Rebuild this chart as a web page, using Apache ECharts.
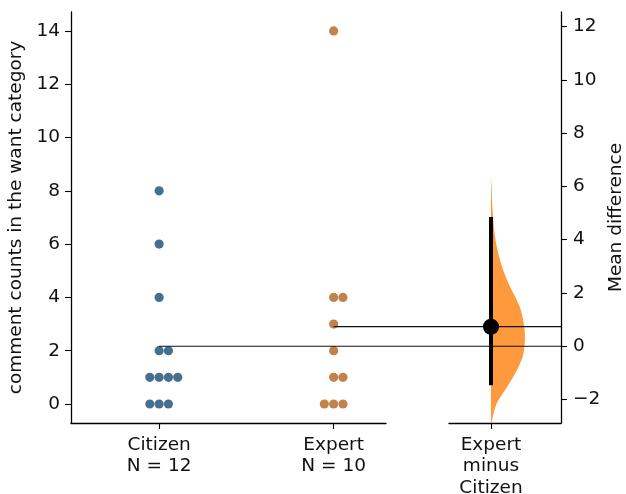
<!DOCTYPE html>
<html><head><meta charset="utf-8">
<script src="https://cdn.jsdelivr.net/npm/echarts@6/dist/echarts.min.js"></script>
<style>html,body{margin:0;padding:0;background:#fff}#c{width:626px;height:494px}</style>
</head><body><div id="c"></div>
<script>
// ---------- data ----------
const groups = ['Citizen', 'Expert'];
const citizenValues = [0, 0, 0, 1, 1, 1, 1, 2, 2, 4, 6, 8];
const expertValues = [0, 0, 0, 1, 1, 2, 3, 4, 4, 14];
const leftTicks = [0, 2, 4, 6, 8, 10, 12, 14];
const rightTicks = [-2, 0, 2, 4, 6, 8, 10, 12];
const diffLabel = 'Expert\nminus\nCitizen';
const yLabel = 'comment counts in the want category';
const diffAxisLabel = 'Mean difference';
// bootstrap distribution of the mean difference (value, relative density)
const bootDiff =    [6.34, 5.9, 5.48, 4.73, 4.10, 3.48, 2.85, 2.23, 1.73, 1.35, 0.72, 0.30, -0.03, -0.40, -1.02, -1.65, -2.14, -2.65, -2.95];
const bootDensity = [0.0, 0.02, 0.03, 0.068, 0.12, 0.215, 0.36, 0.56, 0.76, 0.88, 0.98, 1.0, 0.98, 0.93, 0.71, 0.41, 0.17, 0.05, 0.01];
const ciLow = -1.46, ciHigh = 4.85;

// ---------- layout / style ----------
const FONT = 'DejaVu Sans';
const FS = 18.5;
const TXT = '#111';
const GL = {left: 71, top: 12, width: 315, height: 411, outerBoundsMode: 'none'};
const GR = {left: 449, top: 12, width: 112, height: 411, outerBoundsMode: 'none'};
const Y_MIN = -0.713, Y_MAX = 14.71;
const DOT_R = 4.6, DOT_GAP = 9.3;
const colors = ['#446f8f', '#c3824a'];
const violinColor = 'rgba(255,127,14,0.8)';

const mean = a => a.reduce((s, v) => s + v, 0) / a.length;
const groupValues = [citizenValues, expertValues];
const means = groupValues.map(mean);
const diffMean = means[1] - means[0];

function swarmSlots(vals) {
  const seen = {};
  const order = [0, 1, -1, 2, -2, 3, -3, 4, -4];
  return vals.map(v => { const k = seen[v] || 0; seen[v] = k + 1; return order[k]; });
}

const swarmSeries = groupValues.map((vals, gi) => {
  const slots = swarmSlots(vals);
  return {
    type: 'custom', xAxisIndex: 0, yAxisIndex: 0, z: 4,
    data: vals.map((v, i) => [gi, v, slots[i]]),
    renderItem(params, api) {
      const p = api.coord([api.value(0), api.value(1)]);
      return {type: 'circle', shape: {cx: p[0] + api.value(2) * DOT_GAP, cy: p[1], r: DOT_R},
        style: {fill: colors[gi]}};
    }
  };
});

const meanLineSeries = {
  type: 'custom', xAxisIndex: 0, yAxisIndex: 0, z: 6, clip: false,
  data: means.map((m, gi) => [gi, m]),
  renderItem(params, api) {
    const p = api.coord([api.value(0), api.value(1)]);
    return {type: 'line', shape: {x1: p[0], y1: p[1], x2: GR.left + GR.width, y2: p[1]},
      style: {stroke: '#111', lineWidth: 1.2}};
  }
};

const violinSeries = {
  type: 'custom', xAxisIndex: 1, yAxisIndex: 1, z: 2, clip: true,
  data: [[0, 0]],
  renderItem(params, api) {
    const pts = [];
    for (let i = 0; i < bootDiff.length; i++) pts.push(api.coord([bootDensity[i], bootDiff[i]]));
    pts.push(api.coord([0, bootDiff[bootDiff.length - 1]]));
    pts.push(api.coord([0, bootDiff[0]]));
    return {type: 'polygon', shape: {points: pts, smooth: 0.3}, style: {fill: violinColor}};
  }
};

const ciSeries = {
  type: 'custom', xAxisIndex: 1, yAxisIndex: 1, z: 8,
  data: [[0, ciLow, ciHigh, diffMean]],
  renderItem(params, api) {
    const a = api.coord([0, api.value(1)]);
    const b = api.coord([0, api.value(2)]);
    const m = api.coord([0, api.value(3)]);
    return {type: 'group', children: [
      {type: 'line', shape: {x1: a[0], y1: a[1], x2: b[0], y2: b[1]}, style: {stroke: '#000', lineWidth: 4}},
      {type: 'circle', shape: {cx: m[0], cy: m[1], r: 8}, style: {fill: '#000'}}
    ]};
  }
};

const axisLineStyle = {show: true, onZero: false, lineStyle: {color: '#000', width: 1.3}};
const tickStyle = {show: true, length: 6, lineStyle: {color: '#000', width: 1.1}};
const labelBase = {color: TXT, fontFamily: FONT, fontSize: FS};

const option = {
  animation: false,
  backgroundColor: '#fff',
  grid: [GL, GR],
  xAxis: [
    {gridIndex: 0, type: 'value', min: -0.505, max: 1.3, splitLine: {show: false},
      axisLine: axisLineStyle,
      axisTick: Object.assign({}, tickStyle, {customValues: [0, 1]}),
      axisLabel: Object.assign({}, labelBase, {customValues: [0, 1], margin: 11, lineHeight: 21.5,
        formatter: v => groups[Math.round(v)] + '\nN = ' + groupValues[Math.round(v)].length})},
    {gridIndex: 1, type: 'value', min: -1.235, max: 2.059, splitLine: {show: false},
      axisLine: axisLineStyle,
      axisTick: Object.assign({}, tickStyle, {customValues: [0]}),
      axisLabel: Object.assign({}, labelBase, {customValues: [0], margin: 11, lineHeight: 21.5,
        formatter: () => diffLabel})}
  ],
  yAxis: [
    {gridIndex: 0, type: 'value', min: Y_MIN, max: Y_MAX, splitLine: {show: false},
      axisLine: axisLineStyle,
      axisTick: Object.assign({}, tickStyle, {customValues: leftTicks}),
      axisLabel: Object.assign({}, labelBase, {customValues: leftTicks, margin: 11}),
      name: yLabel, nameLocation: 'middle', nameGap: 40,
      nameTextStyle: {color: TXT, fontFamily: FONT, fontSize: FS}},
    {gridIndex: 1, type: 'value', position: 'right', min: Y_MIN - means[0], max: Y_MAX - means[0],
      splitLine: {show: false},
      axisLine: axisLineStyle,
      axisTick: Object.assign({}, tickStyle, {customValues: rightTicks}),
      axisLabel: Object.assign({}, labelBase, {customValues: rightTicks, margin: 12,
        formatter: v => (v < 0 ? '\u2212' + Math.abs(v) : String(v))}),
      name: diffAxisLabel, nameLocation: 'middle', nameGap: 46,
      nameTextStyle: {color: TXT, fontFamily: FONT, fontSize: FS}}
  ],
  series: [violinSeries].concat(swarmSeries, [meanLineSeries, ciSeries])
};

const chart = echarts.init(document.getElementById('c'), null, {renderer: 'canvas'});
chart.setOption(option);
</script>
</body></html>
